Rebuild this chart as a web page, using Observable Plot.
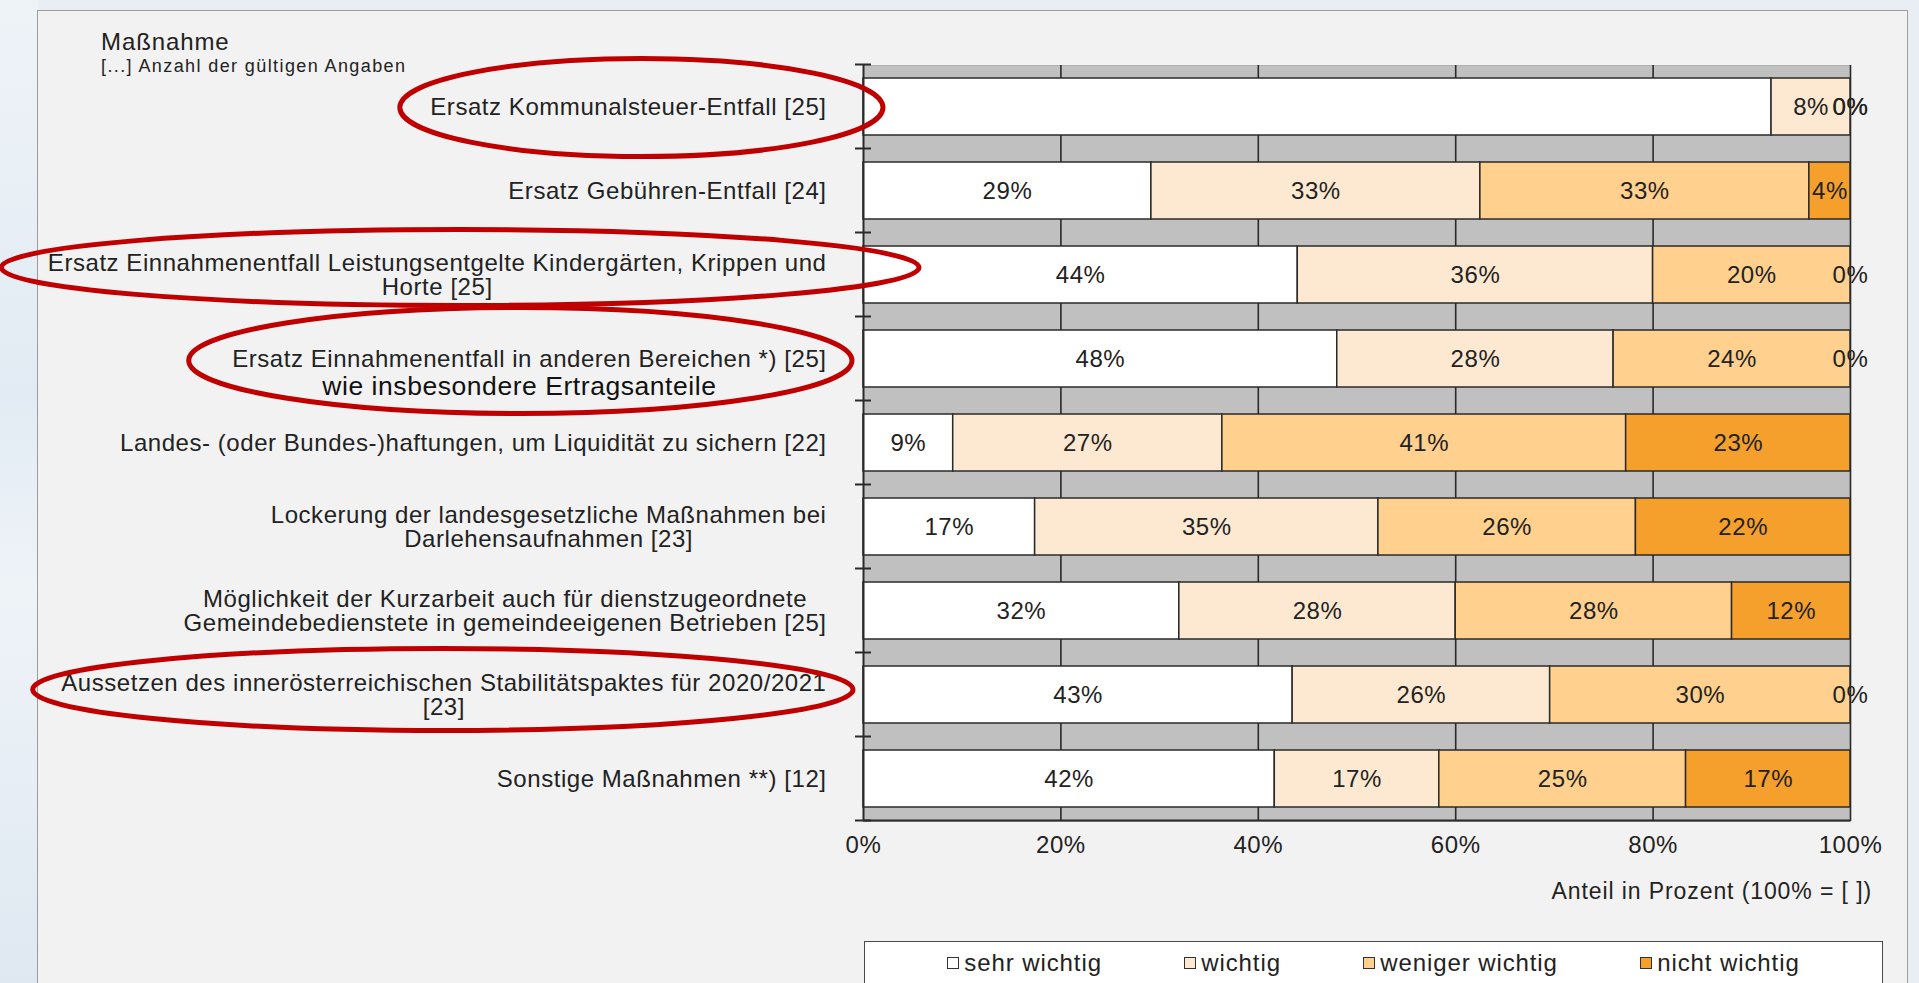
<!DOCTYPE html>
<html>
<head>
<meta charset="utf-8">
<script src="https://cdn.jsdelivr.net/npm/d3@7"></script>
<script src="https://cdn.jsdelivr.net/npm/@observablehq/plot@0.6"></script>
<style>
  html, body { margin: 0; padding: 0; }
  body { width: 1919px; height: 983px; overflow: hidden; position: relative; background: #e8eef4; font-family: "Liberation Sans", Arial, sans-serif; color: #222; }
  #deco1 { position: absolute; left: 0; top: 0; width: 38px; height: 983px; background: linear-gradient(180deg, #eef3f8 0%, #e2ebf3 40%, #eef3f8 60%, #dfe8f1 100%); }
  #panel { position: absolute; left: 37px; top: 10px; width: 1871px; height: 1000px; background: #f2f2f2; border: 1px solid #9c9c9c; box-sizing: border-box; }
  #head1 { position: absolute; left: 101px; top: 28px; font-size: 24px; letter-spacing: 0.9px; color: #222; }
  #head2 { position: absolute; left: 101px; top: 56px; font-size: 18px; letter-spacing: 1.4px; color: #222; }
  #chart { position: absolute; left: 0; top: 0; }
  #xlabel { position: absolute; right: 47px; top: 878px; font-size: 23px; letter-spacing: 0.9px; color: #222; }
  #legend { position: absolute; left: 864px; top: 941px; width: 1019px; height: 52px; background: #fff; border: 1.5px solid #4a4a4a; box-sizing: border-box; display: flex; justify-content: space-evenly; align-items: flex-start; padding-top: 7px; font-size: 24px; letter-spacing: 0.9px; color: #222; }
  .item { display: flex; align-items: center; }
  .sw { width: 12px; height: 12px; border: 1.5px solid #333; margin-right: 5px; box-sizing: border-box; }
</style>
</head>
<body>
<div id="deco1"></div>
<div id="panel"></div>
<div id="head1">Maßnahme</div>
<div id="head2">[...] Anzahl der gültigen Angaben</div>
<div id="chart"></div>
<div id="xlabel">Anteil in Prozent (100% = [ ])</div>
<div id="legend"></div>
<script>
// ---------------- data ----------------
const categories = [
  "Ersatz Kommunalsteuer-Entfall [25]",
  "Ersatz Gebühren-Entfall [24]",
  "Ersatz Einnahmenentfall Leistungsentgelte Kindergärten, Krippen und\nHorte [25]",
  "Ersatz Einnahmenentfall in anderen Bereichen *) [25]",
  "Landes- (oder Bundes-)haftungen, um Liquidität zu sichern [22]",
  "Lockerung der landesgesetzliche Maßnahmen bei\nDarlehensaufnahmen [23]",
  "Möglichkeit der Kurzarbeit auch für dienstzugeordnete\nGemeindebedienstete in gemeindeeigenen Betrieben [25]",
  "Aussetzen des innerösterreichischen Stabilitätspaktes für 2020/2021\n[23]",
  "Sonstige Maßnahmen **) [12]"
];
const series = ["sehr wichtig", "wichtig", "weniger wichtig", "nicht wichtig"];
const sehrWichtig    = [92, 29.17, 44, 48,  9.09, 17.39, 32, 43.48, 41.67];
const wichtig        = [ 8, 33.33, 36, 28, 27.27, 34.78, 28, 26.09, 16.67];
const wenigerWichtig = [ 0, 33.33, 20, 24, 40.91, 26.09, 28, 30.43, 25];
const nichtWichtig   = [ 0,  4.17,  0,  0, 22.73, 21.74, 12,  0,    16.66];
const xTicks = [0, 20, 40, 60, 80, 100];
// segment labels that are not shown in the original
const hiddenLabels = [[categories[0], "sehr wichtig"]];
const extraNote = "wie insbesondere Ertragsanteile";
const colors = ["#ffffff", "#fde9d1", "#ffd08e", "#f59f2c"];

// ---------------- build table ----------------
const seriesValues = [sehrWichtig, wichtig, wenigerWichtig, nichtWichtig];
const rows = [];
categories.forEach((c, i) => series.forEach((s, j) => rows.push({cat: c, series: s, value: seriesValues[j][i]})));
const isHidden = d => hiddenLabels.some(([c, s]) => c === d.cat && s === d.series);

const FONT = "'Liberation Sans', Arial, sans-serif";
const LS = 0.55;           // letter spacing
const LABEL_SIZE = 24;
const LABEL_GAP = 37;
const ctx = document.createElement("canvas").getContext("2d");
function measure(text, size) {
  ctx.font = `${size}px 'Liberation Sans'`;
  return ctx.measureText(text).width + LS * text.length;
}
const blockWidth = c => Math.max(...c.split("\n").map(l => measure(l, LABEL_SIZE)));

const labelMarks = categories.map(c => Plot.text([c], {
  y: d => d, text: d => d, frameAnchor: "left", textAnchor: "middle",
  dx: -LABEL_GAP - blockWidth(c) / 2, lineHeight: 1.04, fontSize: LABEL_SIZE, fill: "#222"
}));
const noteCat = categories[3];
const noteMark = Plot.text([noteCat], {
  y: d => d, text: () => extraNote, frameAnchor: "left", textAnchor: "middle",
  dx: -LABEL_GAP - blockWidth(noteCat) / 2 - 10, dy: 28, fontSize: 26.5, fill: "#111"
});

const chart = Plot.plot({
  width: 1919, height: 875,
  marginLeft: 863, marginRight: 69, marginTop: 65, marginBottom: 54,
  style: {background: "transparent", fontFamily: FONT, fontSize: "24px", color: "#222", letterSpacing: LS + "px", overflow: "visible"},
  x: {domain: [0, 100], ticks: xTicks, tickFormat: d => d + "%", tickSize: 0, tickPadding: 14, label: null},
  y: {domain: categories, paddingInner: 0.32, paddingOuter: 0.16, axis: null},
  color: {domain: series, range: colors},
  marks: [
    Plot.frame({fill: "#c0c0c0", stroke: "#b0b0b0"}),
    Plot.gridX({ticks: xTicks.slice(1), stroke: "#2a2a2a", strokeOpacity: 1, strokeWidth: 1.6}),
    Plot.barX(rows, Plot.stackX({x: "value", y: "cat", fill: "series", stroke: "#2a2a2a", strokeWidth: 1.5})),
    Plot.text(rows, Plot.stackX({x: "value", y: "cat", z: "series", text: d => isHidden(d) ? "" : Math.round(d.value) + "%", fontSize: 24, fill: "#222"})),
    Plot.ruleX([0], {stroke: "#2a2a2a", strokeWidth: 2}),
    ...labelMarks,
    noteMark
  ]
});
document.getElementById("chart").appendChild(chart);

// ---------------- axis details & annotations (from the plot's scales) ----------------
const xs = chart.scale("x"), ys = chart.scale("y");
const bw = ys.bandwidth;
const step = (ys.range[1] - ys.range[0]) / categories.length;
const x0 = xs.apply(0), x100 = xs.apply(100);
const svg = d3.select(chart);
const boundaries = categories.map(c => ys.apply(c) - (step - bw) / 2);
boundaries.push(boundaries[boundaries.length - 1] + step);
svg.append("g").selectAll("line").data(boundaries).join("line")
  .attr("x1", x0 - 8).attr("x2", x0 + 8).attr("y1", d => d).attr("y2", d => d)
  .attr("stroke", "#2a2a2a").attr("stroke-width", 2);
svg.append("line").attr("x1", x0).attr("x2", x100)
  .attr("y1", boundaries[boundaries.length - 1]).attr("y2", boundaries[boundaries.length - 1])
  .attr("stroke", "#2a2a2a").attr("stroke-width", 2);

// red hand-drawn ellipses around highlighted measures
const highlights = [
  {cat: categories[0], padL: 30, padR: 57, dy: 1, ry: 49},
  {cat: categories[2], padL: 46, padR: 93, dy: -7, ry: 38},
  {cat: categories[3], padL: 43, padR: 26, dy: 2, ry: 53},
  {cat: categories[7], padL: 28, padR: 27, dy: -5, ry: 41}
];
svg.append("g").selectAll("ellipse").data(highlights).join("ellipse")
  .attr("cx", h => { const r = x0 - LABEL_GAP, l = r - blockWidth(h.cat); return ((l - h.padL) + (r + h.padR)) / 2; })
  .attr("rx", h => { const r = x0 - LABEL_GAP, l = r - blockWidth(h.cat); return ((r + h.padR) - (l - h.padL)) / 2; })
  .attr("cy", h => ys.apply(h.cat) + bw / 2 + h.dy)
  .attr("ry", h => h.ry)
  .attr("fill", "none").attr("stroke", "#c00000").attr("stroke-width", 5);

// ---------------- legend ----------------
const legend = d3.select("#legend");
series.forEach((s, i) => {
  const it = legend.append("div").attr("class", "item");
  it.append("div").attr("class", "sw").style("background", colors[i]);
  it.append("span").text(s);
});
</script>
</body>
</html>
